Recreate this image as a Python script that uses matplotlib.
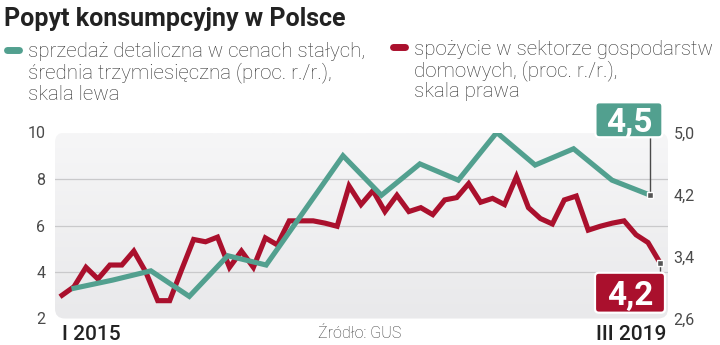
import numpy as np
import matplotlib
matplotlib.use('Agg')
import matplotlib.pyplot as plt
from matplotlib.patches import FancyBboxPatch
from matplotlib.lines import Line2D
from matplotlib.colors import LinearSegmentedColormap
from matplotlib.transforms import IdentityTransform

plt.rcParams['font.family'] = ['Roboto', 'DejaVu Sans']
NARROW = ['Liberation Sans Narrow', 'Roboto', 'DejaVu Sans']

# sprzedaz detaliczna, srednia trzymiesieczna (skala lewa), kwartalnie
sprzedaz = [3.3, 3.65, 4.05, 2.95, 4.7, 4.3, 6.65, 9.0,
            7.3, 8.65, 7.95, 10.0, 8.6, 9.3, 7.95, 7.3]
# spozycie w sektorze gospodarstw domowych (skala prawa), miesiecznie I 2015 - III 2019
spozycie = [2.90, 3.01, 3.26, 3.11, 3.29, 3.29, 3.47, 3.20, 2.83, 2.83,
            3.23, 3.62, 3.59, 3.65, 3.26, 3.47, 3.26, 3.64, 3.55, 3.86,
            3.86, 3.86, 3.83, 3.79, 4.31, 4.07, 4.25, 3.98, 4.19, 3.98,
            4.03, 3.94, 4.13, 4.16, 4.34, 4.10, 4.15, 4.07, 4.43, 4.03,
            3.89, 3.82, 4.13, 4.18, 3.74, 3.79, 3.83, 3.86, 3.68, 3.58,
            3.32]
left_ticks = [2, 4, 6, 8, 10]
right_ticks = [2.6, 3.4, 4.2, 5.0]
x_labels = ['I 2015', 'III 2019']
green_value = '4,5'
red_value = '4,2'

GREEN = '#52a08f'
RED = '#aa102d'
W, H = 720, 345

fig = plt.figure(figsize=(7.2, 3.45), dpi=100)
rect = [55 / W, 1 - 318.5 / H, 613 / W, 186 / H]

# background axes with left scale
ax = fig.add_axes(rect)
grad = np.linspace(0, 1, 100).reshape(-1, 1)
cmap = LinearSegmentedColormap.from_list('bg', ['#e9e9eb', '#f6f6f7'])
bg = FancyBboxPatch((0, 0), 1, 1, boxstyle='round,pad=0,rounding_size=0.016',
                    mutation_aspect=613 / 186, transform=ax.transAxes,
                    fc='none', ec='none')
ax.add_patch(bg)
im = ax.imshow(grad, extent=(0, 1, 0, 1), transform=ax.transAxes, cmap=cmap,
               aspect='auto', origin='lower', zorder=0)
im.set_clip_path(bg)

months = np.arange(len(spozycie))
xlim = (-0.59, 50.67)
ax.set_xlim(*xlim)
ax.set_ylim(2, 10)
for t in left_ticks[1:-1]:
    ax.axhline(t, color='#c9c9cb', lw=0.9, zorder=1)
ax.set_yticks(left_ticks)
ax.set_yticklabels([str(t) for t in left_ticks])
ax.set_xticks([])
ax.tick_params(axis='y', length=0, pad=7, labelsize=11.5, labelcolor='#4a4a4a')
for s in ax.spines.values():
    s.set_visible(False)

# right scale: consumption
axr = ax.twinx()
axr.set_ylim(2.6, 5.0)
axr.set_yticks(right_ticks)
axr.set_yticklabels([f'{t:.1f}'.replace('.', ',') for t in right_ticks])
axr.tick_params(axis='y', length=0, pad=4, labelsize=11.5, labelcolor='#4a4a4a')
for s in axr.spines.values():
    s.set_visible(False)
axr.plot(months, spozycie, color=RED, lw=3.7, solid_joinstyle='miter', zorder=3)

# green series on top, left scale
axg = fig.add_axes(rect, sharex=ax, sharey=ax)
axg.axis('off')
green_x = np.linspace(1, 49.2, len(sprzedaz))
axg.plot(green_x, sprzedaz, color=GREEN, lw=3.7, solid_joinstyle='miter', zorder=3)
axg.set_xlim(*xlim)


def value_box(axis, x, y, text, color, x0, x1, y0, y1, base):
    # box placed in pixels relative to the last point of a series
    px, py = axis.transData.transform((x, y))
    ident = IdentityTransform()
    tip = y1 if y1 < 0 else y0
    fig.add_artist(Line2D([px, px], [py, py + tip], transform=ident,
                          color='#4a4a4a', lw=1, zorder=4))
    fig.add_artist(FancyBboxPatch((px + x0, py + y0), x1 - x0, y1 - y0,
                                  boxstyle='round,pad=0,rounding_size=4',
                                  fc=color, ec='white', lw=1.6,
                                  transform=ident, zorder=5))
    fig.text(px + (x0 + x1) / 2, py + y0 + base, text, transform=ident,
             ha='center', va='baseline', fontsize=24, fontweight='bold',
             color='white', family=NARROW, zorder=6)
    fig.add_artist(Line2D([px], [py], transform=ident, marker='s', ms=5,
                          mfc='#555555', mec='white', mew=1, zorder=7))


value_box(axg, green_x[-1], sprzedaz[-1], green_value, GREEN, -55, 12, 58, 93, 5)
value_box(axr, months[-1], spozycie[-1], red_value, RED, -65, 5, -50, -10, 8)

# title and legend
fig.text(4 / W, 1 - 26 / H, 'Popyt konsumpcyjny w Polsce', fontsize=18, fontweight='bold',
         color='#222222', va='baseline', ha='left', family=NARROW)

fig.add_artist(Line2D([7 / W, 19 / W], [1 - 50 / H] * 2, lw=5, color=GREEN,
                      solid_capstyle='round'))
fig.add_artist(Line2D([393 / W, 405 / W], [1 - 47 / H] * 2, lw=5, color=RED,
                      solid_capstyle='round'))
green_lines = ['sprzedaż detaliczna w cenach stałych,',
               'średnia trzymiesięczna (proc. r./r.),',
               'skala lewa']
red_lines = ['spożycie w sektorze gospodarstw',
             'domowych, (proc. r./r.),',
             'skala prawa']
for i, line in enumerate(green_lines):
    fig.text(28 / W, 1 - (57 + 21.5 * i) / H, line, fontsize=14.8, fontweight='light',
             color='#333333', va='baseline', ha='left')
for i, line in enumerate(red_lines):
    fig.text(414 / W, 1 - (55 + 21 * i) / H, line, fontsize=14.8, fontweight='light',
             color='#333333', va='baseline', ha='left')

# x labels and source
fig.text(62 / W, 1 - 340 / H, x_labels[0], fontsize=15, fontweight='medium',
         color='#222222', va='baseline', ha='left')
fig.text(666 / W, 1 - 340 / H, x_labels[1], fontsize=15, fontweight='medium',
         color='#222222', va='baseline', ha='right')
fig.text(360 / W, 1 - 338 / H, 'Źródło: GUS', fontsize=11.5, fontweight='light',
         color='#333333', va='baseline', ha='center')

fig.savefig('out.png', dpi=100)
